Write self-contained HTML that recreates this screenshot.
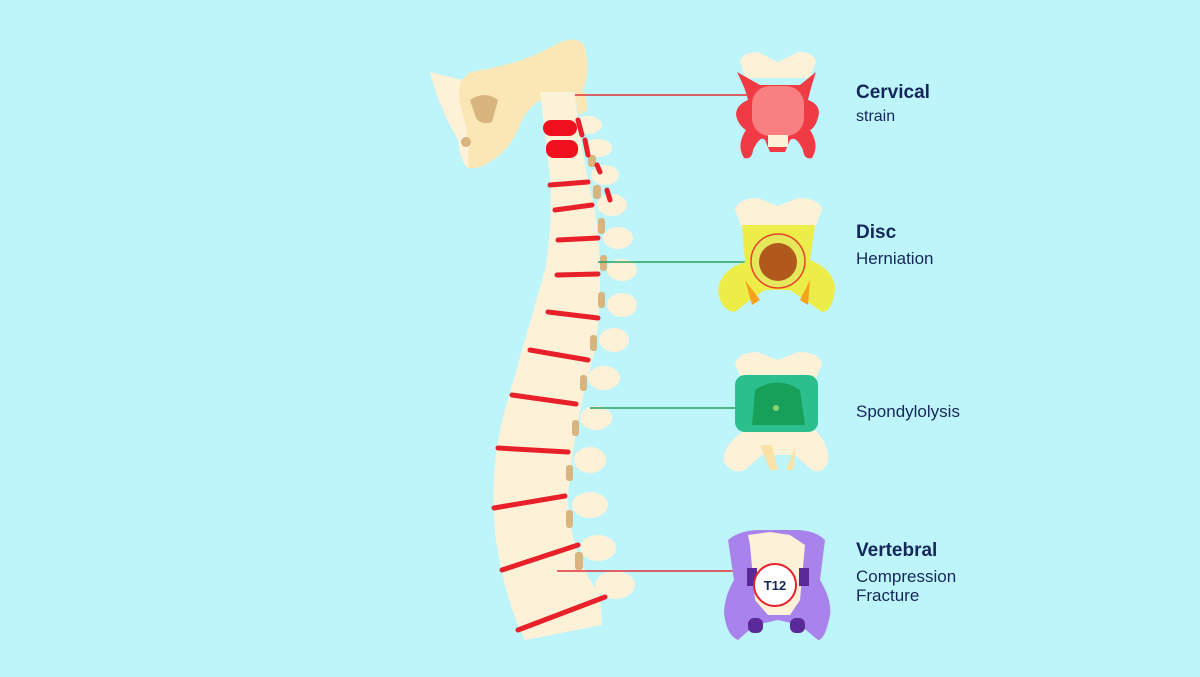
<!DOCTYPE html>
<html><head><style>
html,body{margin:0;padding:0;background:#bef5fb;}
svg{display:block}
text{font-family:"Liberation Sans",sans-serif;fill:#14275a}
</style></head><body>
<svg width="1200" height="677" viewBox="0 0 1200 677">
<rect width="1200" height="677" fill="#bef5fb"/>
<!-- skull -->
<path d="M430 72 L462 80 L470 72 Q520 65 555 45 Q575 34 584 45 Q592 70 582 92 L545 98 Q528 105 520 125 Q510 150 490 162 Q478 170 468 168 Q462 150 458 130 Q440 110 430 72 Z" fill="#fbe7b6"/>
<path d="M430 72 L462 80 Q456 95 462 112 Q470 135 468 168 Q460 162 458 140 Q440 110 430 72 Z" fill="#fdf1d8"/>
<path d="M470 100 Q485 90 498 100 L492 122 Q482 126 476 118 Z" fill="#d8b47e"/>
<circle cx="466" cy="142" r="5" fill="#d8b47e"/>
<!-- spinous processes -->
<g fill="#fdf1d8">
<ellipse cx="588" cy="125" rx="14" ry="9"/><ellipse cx="598" cy="148" rx="14" ry="9"/>
<ellipse cx="605" cy="175" rx="14" ry="10"/><ellipse cx="612" cy="205" rx="15" ry="11"/>
<ellipse cx="618" cy="238" rx="15" ry="11"/><ellipse cx="622" cy="270" rx="15" ry="11"/>
<ellipse cx="622" cy="305" rx="15" ry="12"/><ellipse cx="614" cy="340" rx="15" ry="12"/>
<ellipse cx="604" cy="378" rx="16" ry="12"/><ellipse cx="596" cy="418" rx="16" ry="12"/>
<ellipse cx="590" cy="460" rx="16" ry="13"/><ellipse cx="590" cy="505" rx="18" ry="13"/>
<ellipse cx="598" cy="548" rx="18" ry="13"/><ellipse cx="615" cy="585" rx="20" ry="14"/>
</g>
<!-- body column -->
<path d="M540 92 L575 92 Q580 150 595 210 Q605 280 595 350 Q572 430 568 500 Q570 555 600 595 L602 625 L525 640 Q505 600 496 540 Q488 470 505 410 Q525 340 545 270 Q555 210 548 160 Z" fill="#fdf1d8"/>
<path d="M575 92 L585 92 L588 110 L578 115 Z" fill="#fbe7b6"/>
<!-- facet joints -->
<g fill="#d8b47e">
<rect x="588" y="155" width="8" height="12" rx="3"/><rect x="593" y="185" width="8" height="14" rx="3"/>
<rect x="598" y="218" width="7" height="16" rx="3"/><rect x="600" y="255" width="7" height="16" rx="3"/>
<rect x="598" y="292" width="7" height="16" rx="3"/><rect x="590" y="335" width="7" height="16" rx="3"/>
<rect x="580" y="375" width="7" height="16" rx="3"/><rect x="572" y="420" width="7" height="16" rx="3"/>
<rect x="566" y="465" width="7" height="16" rx="3"/><rect x="566" y="510" width="7" height="18" rx="3"/>
<rect x="575" y="552" width="8" height="18" rx="3"/>
</g>
<!-- red discs -->
<g stroke="#e8202a" stroke-width="5" stroke-linecap="round" fill="none">
<line x1="550" y1="185" x2="588" y2="182"/>
<line x1="555" y1="210" x2="592" y2="205"/>
<line x1="558" y1="240" x2="598" y2="238"/>
<line x1="557" y1="275" x2="598" y2="274"/>
<line x1="548" y1="312" x2="598" y2="318"/>
<line x1="530" y1="350" x2="588" y2="360"/>
<line x1="512" y1="395" x2="576" y2="404"/>
<line x1="498" y1="448" x2="568" y2="452"/>
<line x1="494" y1="508" x2="565" y2="496"/>
<line x1="502" y1="570" x2="578" y2="545"/>
<line x1="518" y1="630" x2="605" y2="597"/>
<line x1="578" y1="120" x2="582" y2="135"/><line x1="585" y1="140" x2="588" y2="155"/>
<line x1="597" y1="165" x2="600" y2="172"/><line x1="607" y1="190" x2="610" y2="200"/>
</g>
<rect x="543" y="120" width="34" height="16" rx="8" fill="#f0101e"/>
<rect x="546" y="140" width="32" height="18" rx="8" fill="#f0101e"/>
<!-- connectors -->
<line x1="575" y1="95" x2="750" y2="95" stroke="#e0303a" stroke-width="1.5"/>
<line x1="598" y1="262" x2="775" y2="262" stroke="#2aa060" stroke-width="1.5"/>
<line x1="590" y1="408" x2="775" y2="408" stroke="#2aa060" stroke-width="1.5"/>
<line x1="557" y1="571" x2="755" y2="571" stroke="#e0303a" stroke-width="1.5"/>
<!-- cervical icon -->
<g>
<path d="M740 62 Q742 52 758 52 Q770 58 778 62 Q786 58 798 52 Q814 52 816 62 L810 78 L746 78 Z" fill="#fdf1d8"/>
<path d="M737 72 L760 85 L800 85 L816 72 Q810 90 808 100 Q822 105 818 118 Q815 128 810 130 Q820 145 812 158 Q804 160 803 150 Q796 135 790 140 L785 152 L770 152 L765 140 Q760 135 753 150 Q752 160 744 158 Q736 145 746 130 Q738 125 736 115 Q736 105 748 100 Q746 90 737 72 Z" fill="#f03a44"/>
<rect x="752" y="86" width="52" height="50" rx="18" fill="#f88080"/>
<rect x="768" y="135" width="20" height="12" fill="#fdf1d8"/>
</g>
<!-- disc icon -->
<g>
<path d="M735 210 Q738 198 758 198 L778 206 L798 198 Q820 198 822 210 L815 228 L742 228 Z" fill="#fdf1d8"/>
<path d="M742 225 L815 225 L810 260 Q835 270 835 290 Q832 312 822 312 L805 300 L790 290 L765 290 L750 300 L735 312 Q720 310 718 290 Q720 270 745 262 Z" fill="#eded4a"/>
<path d="M745 280 L760 300 L752 305 Z M810 280 L800 300 L808 305 Z" fill="#f7a21a"/>
<circle cx="778" cy="261" r="27" fill="#e4e85a" stroke="#e8402a" stroke-width="1.5"/>
<circle cx="778" cy="262" r="19" fill="#b1581d"/>
</g>
<!-- spondylolysis icon -->
<g>
<path d="M735 364 Q738 352 758 352 L778 360 L798 352 Q820 352 822 364 L815 380 L742 380 Z" fill="#fdf1d8"/>
<path d="M745 430 L815 430 Q830 445 828 462 Q822 475 812 470 L795 455 L762 455 L745 470 Q732 475 724 462 Q722 445 745 430 Z" fill="#fdf1d8"/>
<path d="M760 445 L770 470 L778 470 L772 445 Z M796 445 L786 470 L793 470 Z" fill="#fbe3a8"/>
<rect x="735" y="375" width="83" height="57" rx="10" fill="#2cbf8e"/>
<path d="M755 390 Q778 375 800 390 L805 425 L752 425 Z" fill="#17a05a"/>
<circle cx="776" cy="408" r="3" fill="#8bd46a"/>
</g>
<!-- vertebral icon -->
<g>
<path d="M728 540 Q740 530 760 530 L795 530 Q815 530 825 540 L820 580 Q832 600 830 615 Q825 640 818 640 L800 625 L778 620 L755 625 L738 640 Q726 635 724 612 Q725 595 734 580 Z" fill="#a983ec"/>
<path d="M748 535 L770 532 L790 535 L805 545 L800 600 L790 615 L768 615 L755 600 L750 545 Z" fill="#fdf1d8"/>
<rect x="748" y="618" width="15" height="15" rx="6" fill="#5a2a9a"/>
<rect x="790" y="618" width="15" height="15" rx="6" fill="#5a2a9a"/>
<rect x="747" y="568" width="10" height="18" fill="#5a2a9a"/>
<rect x="799" y="568" width="10" height="18" fill="#5a2a9a"/>
<circle cx="775" cy="585" r="21" fill="#fff" stroke="#e8202a" stroke-width="2"/>
<text x="775" y="590" text-anchor="middle" font-size="13" font-weight="bold" fill="#111">T12</text>
</g>
<!-- labels -->
<text x="856" y="98" font-size="19" font-weight="bold">Cervical</text>
<text x="856" y="121" font-size="16">strain</text>
<text x="856" y="238" font-size="19" font-weight="bold">Disc</text>
<text x="856" y="264" font-size="17">Herniation</text>
<text x="856" y="417" font-size="17">Spondylolysis</text>
<text x="856" y="556" font-size="19" font-weight="bold">Vertebral</text>
<text x="856" y="582" font-size="17">Compression</text>
<text x="856" y="601" font-size="17">Fracture</text>
</svg>
</body></html>
